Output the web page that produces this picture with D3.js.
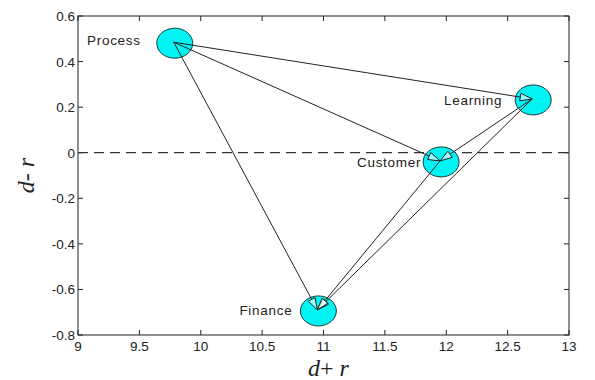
<!DOCTYPE html>
<html><head><meta charset="utf-8">
<script src="https://cdn.jsdelivr.net/npm/d3@7"></script>
<style>body{margin:0;background:#fff}svg{display:block}</style>
</head><body>
<svg id="c" width="595" height="380"></svg>
<script>
const nodeNames = ["Process", "Learning", "Customer", "Finance"];
const dPlusR = [9.78, 12.70, 11.95, 10.95];
const dMinusR = [0.485, 0.236, -0.036, -0.69];
const arrowFrom = ["Process", "Process", "Process", "Learning", "Learning", "Customer"];
const arrowTo = ["Learning", "Customer", "Finance", "Customer", "Finance", "Finance"];
const xTicks = [9, 9.5, 10, 10.5, 11, 11.5, 12, 12.5, 13];
const yTicks = [-0.8, -0.6, -0.4, -0.2, 0, 0.2, 0.4, 0.6];

const svg = d3.select("#c");
const L = 78, R = 569, T = 16, B = 335;
const x = d3.scaleLinear().domain([9, 13]).range([L, R]);
const y = d3.scaleLinear().domain([-0.8, 0.6]).range([B, T]);

svg.append("rect").attr("x", L).attr("y", T).attr("width", R - L).attr("height", B - T)
  .attr("fill", "#fff").attr("stroke", "#222").attr("stroke-width", 1);

const fmt = d => (d === 0 ? "0" : String(d));
const tickLen = 5;
const sans = "Liberation Sans, Arial, sans-serif";
const xa = svg.append("g");
xTicks.forEach(t => {
  xa.append("line").attr("x1", x(t)).attr("x2", x(t)).attr("y1", B).attr("y2", B - tickLen).attr("stroke", "#222");
  xa.append("line").attr("x1", x(t)).attr("x2", x(t)).attr("y1", T).attr("y2", T + tickLen).attr("stroke", "#222");
  xa.append("text").attr("x", x(t)).attr("y", B + 16).attr("text-anchor", "middle")
    .attr("font-family", sans).attr("font-size", 13.5).attr("fill", "#222").text(fmt(t));
});
const ya = svg.append("g");
yTicks.forEach(t => {
  ya.append("line").attr("x1", L).attr("x2", L + tickLen).attr("y1", y(t)).attr("y2", y(t)).attr("stroke", "#222");
  ya.append("line").attr("x1", R).attr("x2", R - tickLen).attr("y1", y(t)).attr("y2", y(t)).attr("stroke", "#222");
  ya.append("text").attr("x", L - 3).attr("y", y(t) + 5).attr("text-anchor", "end")
    .attr("font-family", sans).attr("font-size", 13.5).attr("fill", "#222").text(fmt(t));
});

svg.append("line").attr("x1", L).attr("x2", R).attr("y1", y(0)).attr("y2", y(0))
  .attr("stroke", "#333").attr("stroke-width", 1.2).attr("stroke-dasharray", "10,6");

svg.append("text").attr("x", (L + R) / 2 + 5).attr("y", 376).attr("text-anchor", "middle")
  .attr("font-family", "Liberation Serif, Times New Roman, serif").attr("font-size", 24).attr("fill", "#222")
  .html('<tspan font-style="italic">d</tspan>+ <tspan font-style="italic">r</tspan>');
svg.append("text").attr("transform", `translate(34,${(T + B) / 2}) rotate(-90)`).attr("text-anchor", "middle")
  .attr("font-family", "Liberation Serif, Times New Roman, serif").attr("font-size", 24).attr("fill", "#222")
  .html('<tspan font-style="italic">d</tspan>- <tspan font-style="italic">r</tspan>');

const nodes = nodeNames.map((n, i) => ({ name: n, x: dPlusR[i], y: dMinusR[i] }));
const byName = Object.fromEntries(nodes.map(n => [n.name, n]));

svg.append("g").selectAll("ellipse").data(nodes).join("ellipse")
  .attr("cx", d => x(d.x) + 1).attr("cy", d => y(d.y) + 1)
  .attr("rx", 18).attr("ry", 15)
  .attr("fill", "#00f4f4").attr("stroke", "#1a3a3a").attr("stroke-width", 1);

const ag = svg.append("g");
const headLen = 12, headW = 3.8;
arrowFrom.forEach((f, i) => {
  const a = byName[f], b = byName[arrowTo[i]];
  const x1 = x(a.x), y1 = y(a.y), x2 = x(b.x), y2 = y(b.y);
  const dx = x2 - x1, dy = y2 - y1, len = Math.hypot(dx, dy);
  const ux = dx / len, uy = dy / len;
  const bx = x2 - ux * headLen, by = y2 - uy * headLen;
  ag.append("line").attr("x1", x1).attr("y1", y1).attr("x2", bx).attr("y2", by)
    .attr("stroke", "#222").attr("stroke-width", 1);
  const pts = [[x2, y2], [bx - uy * headW, by + ux * headW], [bx + uy * headW, by - ux * headW]];
  ag.append("path").attr("d", "M" + pts.map(p => p.join(",")).join("L") + "Z")
    .attr("fill", "#fff").attr("fill-opacity", 0.6).attr("stroke", "#222").attr("stroke-width", 1);
});

const labelDx = { Process: -33, Learning: -30, Customer: -19, Finance: -25 };
const labelDy = { Process: 3, Learning: 6, Customer: 6, Finance: 5 };
svg.append("g").selectAll("text").data(nodes).join("text")
  .attr("x", d => x(d.x) + labelDx[d.name]).attr("y", d => y(d.y) + labelDy[d.name])
  .attr("text-anchor", "end")
  .attr("font-family", sans).attr("font-size", 13.5).attr("letter-spacing", 0.7).attr("fill", "#222")
  .text(d => d.name);
</script>
</body></html>
